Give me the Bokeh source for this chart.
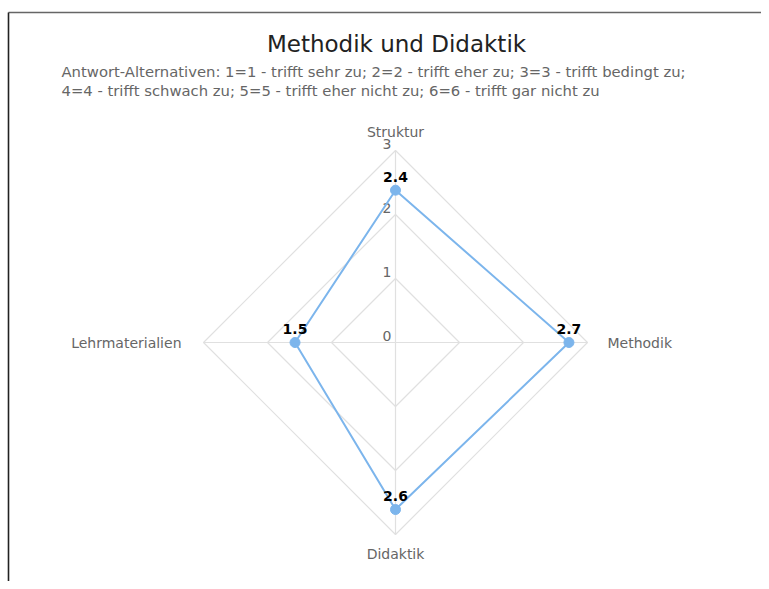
import math
from bokeh.plotting import figure
from bokeh.models import Range1d
from bokeh.core.properties import value
from bokeh.embed import file_html
from bokeh.resources import INLINE

# ---- data ----
categories = ["Struktur", "Methodik", "Didaktik", "Lehrmaterialien"]
values = [2.38, 2.71, 2.61, 1.57]
value_labels = ["2.4", "2.7", "2.6", "1.5"]
ticks = [0, 1, 2, 3]
tick_labels = ["0", "1", "2", "3"]
title_text = "Methodik und Didaktik"
subtitle_lines = [
    "Antwort-Alternativen: 1=1 - trifft sehr zu; 2=2 - trifft eher zu; 3=3 - trifft bedingt zu;",
    "4=4 - trifft schwach zu; 5=5 - trifft eher nicht zu; 6=6 - trifft gar nicht zu",
]

W, H = 761, 581
FONT = value("DejaVu Sans")
GRID = "#e0e0e0"
LABEL = "#666666"
SERIES = "#7cb5ec"

cx, cy = 395, 342
unit = 64.0
vmax = max(ticks)

p = figure(width=W, height=H, output_backend="svg", toolbar_location=None,
           x_range=Range1d(0, W), y_range=Range1d(H, 0),
           min_border=0, outline_line_color=None)
p.axis.visible = False
p.grid.visible = False
p.background_fill_color = "white"
p.border_fill_color = "white"

n = len(categories)
angles = [math.pi / 2 - i * 2 * math.pi / n for i in range(n)]

def pt(r, a):
    return cx + r * math.cos(a), cy - r * math.sin(a)

# frame lines
p.segment(x0=[8, 8], y0=[12, 12], x1=[W, 8], y1=[12, H],
          line_color=["#666666", "#222222"], line_width=[1.5, 1.6])

# rings
for t in ticks:
    if t == 0:
        continue
    xs, ys = [], []
    for a in angles + [angles[0]]:
        x, y = pt(t * unit, a)
        xs.append(x); ys.append(y)
    p.line(xs, ys, line_color=GRID, line_width=1.2)

# spokes
for a in angles:
    x, y = pt(vmax * unit, a)
    p.line([cx, x], [cy, y], line_color=GRID, line_width=1.2)

# tick labels
p.text(x=[cx - 4] * len(ticks), y=[cy - t * unit - 7 for t in ticks], text=tick_labels,
       text_font=FONT, text_font_size="14px", text_color=LABEL,
       text_align="right", text_baseline="middle")

# category labels
for c, a in zip(categories, angles):
    ca, sa = math.cos(a), math.sin(a)
    x = cx + (vmax * unit + 20 + 2 * (ca < -0.1)) * ca
    y = cy - (vmax * unit + 19) * sa
    align = "left" if ca > 0.1 else ("right" if ca < -0.1 else "center")
    p.text(x=[x], y=[y], text=[c], text_font=FONT, text_font_size="14px",
           text_color=LABEL, text_align=align, text_baseline="middle")

# series
pxs, pys = [], []
for v, a in zip(values, angles):
    x, y = pt(v * unit, a)
    pxs.append(x); pys.append(y)
p.line(pxs + [pxs[0]], pys + [pys[0]], line_color=SERIES, line_width=2)
p.scatter(pxs, pys, size=10, fill_color=SERIES, line_color=SERIES)

p.text(x=pxs, y=[y - 13.5 for y in pys], text=value_labels, text_font=FONT,
       text_font_size="14px", text_font_style="bold", text_color="black",
       text_align="center", text_baseline="middle")

# title & subtitle
p.text(x=[396], y=[43], text=[title_text], text_font=FONT, text_font_size="23px",
       text_color="#222222", text_align="center", text_baseline="middle")
p.text(x=[61, 61], y=[71, 90], text=subtitle_lines, text_font=FONT,
       text_font_size="14.8px", text_color=LABEL, text_align="left",
       text_baseline="middle")

open("out.html", "w").write(file_html(p, INLINE))
